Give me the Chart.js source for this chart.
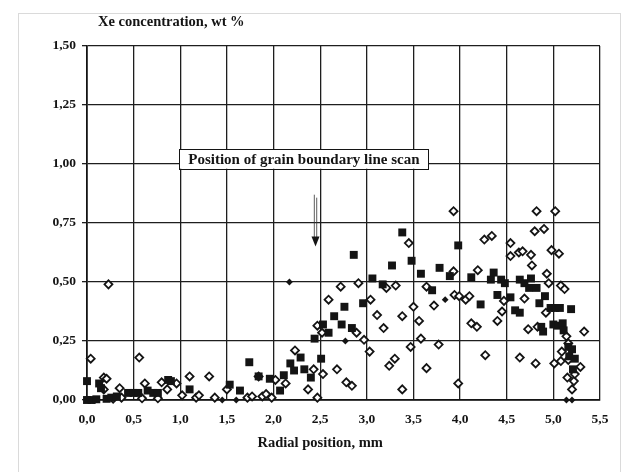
<!DOCTYPE html>
<html>
<head>
<meta charset="utf-8">
<title>Xe concentration</title>
<script src="https://cdn.jsdelivr.net/npm/chart.js@4.4.1/dist/chart.umd.min.js"></script>
<style>
  html, body { margin: 0; padding: 0; background: #fff; }
  #wrap { position: relative; width: 624px; height: 472px; overflow: hidden; }
  #frame { position: absolute; left: 18px; top: 13px; width: 601px; height: 470px;
           border: 1px solid #dadada; border-bottom: none; }
  #chart { position: absolute; left: 0; top: 0; }
</style>
</head>
<body>
<div id="wrap">
  <div id="frame"></div>
  <canvas id="chart" width="624" height="472"></canvas>
</div>
<script>
// ── Data: Xe concentration (wt %) vs radial position (mm) ──
const X_MIN = 0, X_MAX = 5.5, X_STEP = 0.5;
const Y_MIN = 0, Y_MAX = 1.5, Y_STEP = 0.25;

// EPMA points, filled squares
const squarePts = [
  [0.00, 0.08], [0.13, 0.07], [0.15, 0.05], [0.00, 0.00], [0.05, 0.00], [0.10, 0.003],
  [0.21, 0.005], [0.26, 0.01], [0.32, 0.015], [0.44, 0.03], [0.50, 0.03], [0.55, 0.03],
  [0.65, 0.04], [0.71, 0.03], [0.76, 0.03], [0.87, 0.085], [0.90, 0.08], [1.10, 0.045],
  [1.53, 0.065], [1.64, 0.04], [1.74, 0.16], [1.84, 0.10], [1.96, 0.09], [2.07, 0.04],
  [2.11, 0.105], [2.18, 0.155], [2.22, 0.125], [2.29, 0.18], [2.33, 0.13], [2.40, 0.095],
  [2.44, 0.26], [2.51, 0.175], [2.53, 0.32], [2.59, 0.285], [2.65, 0.355], [2.73, 0.32],
  [2.76, 0.395], [2.84, 0.305], [2.86, 0.615], [2.96, 0.41], [3.06, 0.515], [3.17, 0.49],
  [3.27, 0.57], [3.38, 0.71], [3.48, 0.59], [3.58, 0.535], [3.70, 0.465], [3.78, 0.56],
  [3.89, 0.525], [3.98, 0.655], [4.12, 0.52], [4.22, 0.405], [4.33, 0.51], [4.36, 0.54],
  [4.40, 0.445], [4.44, 0.51], [4.48, 0.495], [4.54, 0.435], [4.59, 0.38], [4.64, 0.51],
  [4.64, 0.37], [4.69, 0.495], [4.74, 0.475], [4.76, 0.515], [4.82, 0.475], [4.85, 0.41],
  [4.87, 0.31], [4.89, 0.29], [4.91, 0.44], [4.97, 0.39], [5.00, 0.32], [5.02, 0.39],
  [5.05, 0.315], [5.07, 0.39], [5.10, 0.325], [5.11, 0.295], [5.16, 0.225], [5.17, 0.185],
  [5.19, 0.385], [5.20, 0.215], [5.21, 0.13], [5.23, 0.175]
];

// open diamonds
const diamondPts = [
  [0.04, 0.175], [0.23, 0.49], [0.56, 0.18], [0.18, 0.095], [0.21, 0.09], [0.18, 0.045],
  [0.28, 0.005], [0.35, 0.05], [0.37, 0.01], [0.62, 0.07], [0.80, 0.075], [0.96, 0.07],
  [0.86, 0.045], [0.59, 0.007], [0.76, 0.007], [1.02, 0.02], [1.10, 0.10], [1.17, 0.01],
  [1.20, 0.02], [1.31, 0.10], [1.37, 0.01], [1.50, 0.045], [1.72, 0.01], [1.77, 0.015],
  [1.84, 0.10], [1.88, 0.015], [1.92, 0.025], [1.98, 0.01], [2.02, 0.085], [2.13, 0.07],
  [2.23, 0.21], [2.37, 0.045], [2.43, 0.13], [2.47, 0.01], [2.47, 0.315], [2.52, 0.285],
  [2.53, 0.11], [2.59, 0.425], [2.68, 0.13], [2.72, 0.48], [2.78, 0.075], [2.84, 0.06],
  [2.89, 0.285], [2.91, 0.495], [2.97, 0.255], [3.03, 0.205], [3.04, 0.425], [3.11, 0.36],
  [3.18, 0.305], [3.21, 0.475], [3.24, 0.145], [3.30, 0.175], [3.31, 0.485], [3.38, 0.355],
  [3.38, 0.045], [3.45, 0.665], [3.47, 0.225], [3.50, 0.395], [3.56, 0.335], [3.58, 0.26],
  [3.64, 0.48], [3.64, 0.135], [3.72, 0.40], [3.77, 0.235], [3.93, 0.80], [3.93, 0.545],
  [3.94, 0.445], [3.98, 0.07], [3.99, 0.44], [4.06, 0.425], [4.10, 0.44], [4.12, 0.325],
  [4.18, 0.31], [4.19, 0.55], [4.26, 0.68], [4.27, 0.19], [4.34, 0.695], [4.40, 0.335],
  [4.45, 0.375], [4.47, 0.42], [4.54, 0.665], [4.54, 0.61], [4.63, 0.625], [4.64, 0.18],
  [4.67, 0.63], [4.69, 0.43], [4.73, 0.30], [4.76, 0.615], [4.77, 0.57], [4.80, 0.715],
  [4.81, 0.155], [4.82, 0.80], [4.83, 0.31], [4.90, 0.725], [4.92, 0.37], [4.93, 0.535],
  [4.95, 0.495], [4.98, 0.635], [5.01, 0.155], [5.02, 0.80], [5.06, 0.62], [5.08, 0.485],
  [5.08, 0.165], [5.09, 0.205], [5.12, 0.47], [5.14, 0.27], [5.15, 0.095], [5.16, 0.24],
  [5.16, 0.17], [5.20, 0.045], [5.22, 0.08], [5.23, 0.11], [5.29, 0.14], [5.33, 0.29]
];

// small solid diamonds
const dotPts = [
  [0.02, 0.00], [1.45, 0.00], [1.60, 0.00], [2.17, 0.50], [2.77, 0.25],
  [3.84, 0.425], [5.14, 0.00], [5.20, 0.00]
];

const yTitle = 'Xe concentration, wt %';
const xTitle = 'Radial position, mm';
const noteText = 'Position of grain boundary line scan';

// note box and arrow, in data units
const noteBox = { x0: 0.99, x1: 3.66, y0: 0.98, y1: 1.063 };
const arrow = { x: 2.45, yFrom: 0.87, yTo: 0.65 };
const xTitleAt = 2.5;

const INK = '#141414';
const SERIF = '"Liberation Serif", "DejaVu Serif", serif';

const toXY = pts => pts.map(p => ({ x: p[0], y: p[1] }));
const comma = (v, d) => v.toFixed(d).replace('.', ',');

// titles, note box and arrow
const overlay = {
  id: 'overlay',
  afterDraw(chart) {
    const { ctx, chartArea } = chart;
    const xs = chart.scales.x, ys = chart.scales.y;
    ctx.save();
    ctx.fillStyle = INK;
    ctx.textBaseline = 'middle';

    ctx.font = 'bold 14.5px ' + SERIF;
    ctx.textAlign = 'left';
    ctx.fillText(yTitle, chartArea.left + 11, 22);

    ctx.textAlign = 'center';
    ctx.fillText(xTitle, xs.getPixelForValue(xTitleAt), 443);

    // note box
    const bx0 = xs.getPixelForValue(noteBox.x0), bx1 = xs.getPixelForValue(noteBox.x1);
    const by0 = ys.getPixelForValue(noteBox.y1), by1 = ys.getPixelForValue(noteBox.y0);
    ctx.fillStyle = '#fff';
    ctx.fillRect(bx0, by0, bx1 - bx0, by1 - by0);
    ctx.strokeStyle = INK;
    ctx.lineWidth = 1;
    ctx.strokeRect(Math.round(bx0) + 0.5, Math.round(by0) + 0.5, Math.round(bx1 - bx0), Math.round(by1 - by0));
    ctx.fillStyle = INK;
    ctx.font = 'bold 15px ' + SERIF;
    ctx.fillText(noteText, (bx0 + bx1) / 2, (by0 + by1) / 2 + 1);

    // arrow: double shaft + solid head
    const ax = xs.getPixelForValue(arrow.x);
    const ay0 = ys.getPixelForValue(arrow.yFrom), ay1 = ys.getPixelForValue(arrow.yTo);
    ctx.strokeStyle = '#333';
    ctx.lineWidth = 0.8;
    ctx.beginPath();
    ctx.moveTo(ax - 1.2, ay0); ctx.lineTo(ax - 1.2, ay1 - 8);
    ctx.moveTo(ax + 1.2, ay0 + 3); ctx.lineTo(ax + 1.2, ay1 - 8);
    ctx.stroke();
    ctx.beginPath();
    ctx.moveTo(ax - 4, ay1 - 10);
    ctx.lineTo(ax + 4, ay1 - 10);
    ctx.lineTo(ax, ay1);
    ctx.closePath();
    ctx.fill();
    ctx.restore();
  }
};

new Chart(document.getElementById('chart'), {
  type: 'scatter',
  data: {
    datasets: [
      {
        label: 'squares',
        data: toXY(squarePts),
        pointStyle: 'rect',
        pointRadius: 5.6,
        backgroundColor: INK,
        borderColor: INK,
        borderWidth: 0,
        clip: false
      },
      {
        label: 'diamonds',
        data: toXY(diamondPts),
        pointStyle: 'rectRot',
        pointRadius: 4,
        backgroundColor: '#fff',
        borderColor: INK,
        borderWidth: 1.8,
        clip: false
      },
      {
        label: 'dots',
        data: toXY(dotPts),
        pointStyle: 'rectRot',
        pointRadius: 3.4,
        backgroundColor: INK,
        borderColor: INK,
        borderWidth: 0,
        clip: false
      }
    ]
  },
  options: {
    responsive: false,
    animation: false,
    events: [],
    layout: { padding: { top: 46, right: 24, left: 0, bottom: 0 } },
    plugins: {
      legend: { display: false },
      tooltip: { enabled: false }
    },
    scales: {
      x: {
        type: 'linear',
        min: X_MIN, max: X_MAX,
        afterFit: s => { s.height = 72; },
        grid: { color: '#1e1e1e', lineWidth: 1.3, drawTicks: false },
        border: { color: INK, width: 1.7 },
        ticks: {
          stepSize: X_STEP,
          padding: 11,
          color: INK,
          font: { family: SERIF, size: 13.5, weight: 'bold' },
          callback: v => comma(v, 1)
        }
      },
      y: {
        type: 'linear',
        min: Y_MIN, max: Y_MAX,
        afterFit: s => { s.width = 87; },
        grid: { color: '#1e1e1e', lineWidth: 1.3, tickLength: 5 },
        border: { color: INK, width: 1.7 },
        ticks: {
          stepSize: Y_STEP,
          padding: 6,
          color: INK,
          font: { family: SERIF, size: 13.5, weight: 'bold' },
          callback: v => comma(v, 2)
        }
      }
    }
  },
  plugins: [overlay]
});
</script>
</body>
</html>
